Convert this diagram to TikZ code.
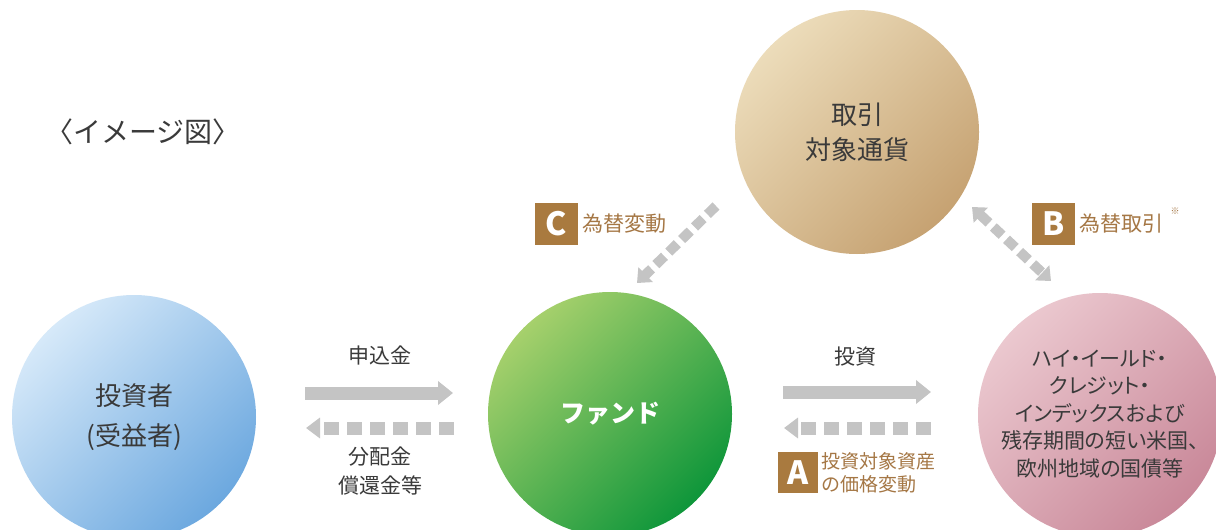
\documentclass[tikz,border=0pt]{standalone}
\usepackage{fontspec}
\setmainfont{Noto Sans CJK JP}
\newfontfamily\jpprop[RawFeature=+palt]{Noto Sans CJK JP}
\usetikzlibrary{arrows.meta}
\definecolor{txt}{HTML}{3A3A3A}
\definecolor{lab}{HTML}{A57745}
\definecolor{boxc}{HTML}{A97A3F}
\definecolor{arr}{HTML}{C4C4C4}
\definecolor{curA}{HTML}{ECDCBA}
\definecolor{curB}{HTML}{C6A272}
\definecolor{invA}{HTML}{D6E9F9}
\definecolor{invB}{HTML}{6CA8DF}
\definecolor{fundA}{HTML}{A6D06C}
\definecolor{fundB}{HTML}{0E963A}
\definecolor{bondA}{HTML}{EBC8CF}
\definecolor{bondB}{HTML}{C98899}
\tikzset{
  ball/.style={circle, minimum size=244pt, inner sep=0pt, align=center, text=txt, shading angle=45},
  solidarr/.style={draw=arr, line width=13pt, -{Triangle[length=15pt,width=23pt]}},
  dasharr/.style={draw=arr, line width=13pt, -{Triangle[length=14pt,width=20pt]}, dash pattern=on 15pt off 8pt},
  diagarr/.style={draw=arr, line width=10pt, dash pattern=on 12pt off 6pt},
  lettbox/.style={fill=boxc, text=white, font=\fontsize{32}{32}\selectfont\bfseries, inner sep=0pt},
  labtxt/.style={text=lab, anchor=west, inner sep=0pt, align=left},
  flowtxt/.style={text=txt, align=center, inner sep=0pt, font=\fontsize{21}{29}\selectfont}
}
\begin{document}
\begin{tikzpicture}[x=1pt,y=-1pt]
\useasboundingbox (0,0) rectangle (1216,530);
\clip (0,0) rectangle (1216,530);
\fill[white] (0,0) rectangle (1216,530);

\node[text=txt, font=\fontsize{28}{30}\selectfont] (title) at (143,132) {〈イメージ図〉};

\node[ball, top color=curA, bottom color=curB, shading angle=45] (cur) at (857,132) {};
\node[ball, top color=invA, bottom color=invB, shading angle=45] (inv) at (134,417) {};
\node[ball, top color=fundA, bottom color=fundB, shading angle=45] (fund) at (610,414) {};
\node[ball, top color=bondA, bottom color=bondB, shading angle=45] (bond) at (1100,415) {};

\node[text=txt, align=center, font=\fontsize{26}{35}\selectfont] (curt) at (cur) {取引\\対象通貨};
\node[text=txt, align=center, font=\fontsize{26}{40}\selectfont] (invt) at (inv) {投資者\\(受益者)};
\node[text=white, font=\fontsize{25}{30}\selectfont\bfseries] (fundt) at (fund) {ファンド};
\node[text=txt, align=center, font=\jpprop\fontsize{21}{27.5}\selectfont] (bondt) at ([yshift=1pt]bond) {ハイ・イールド・\\クレジット・\\インデックスおよび\\残存期間の短い米国、\\欧州地域の国債等};

% horizontal connectors
\coordinate (s1) at (305,393); \coordinate (e1) at (453,393);
\coordinate (s2) at (454,428); \coordinate (e2) at (306,428);
\coordinate (s3) at (783,392); \coordinate (e3) at (931,392);
\coordinate (s4) at (931,428); \coordinate (e4) at (784,428);
\draw[solidarr] (s1) -- (e1);
\draw[dasharr] (s2) -- (e2);
\draw[solidarr] (s3) -- (e3);
\draw[dasharr] (s4) -- (e4);

% diagonal connectors
\coordinate (cs) at (716,206); \coordinate (ce) at (637,283);
\coordinate (bs) at (972,207); \coordinate (be) at (1051,281);
\draw[diagarr, -{Triangle[length=12pt,width=20pt]}] (cs) -- (ce);
\draw[diagarr, {Triangle[length=12pt,width=20pt]}-{Triangle[length=12pt,width=20pt]}] (bs) -- (be);

% flow labels
\node[flowtxt] (l1) at (380,355) {申込金};
\node[flowtxt] (l2) at (380,471) {分配金\\償還金等};
\node[flowtxt] (l3) at (855,357) {投資};

% lettered labels
\node[lettbox, minimum width=43pt, minimum height=42pt] (bc) at (556.5,224) {C};
\node[labtxt, font=\fontsize{21}{25}\selectfont] (tc) at (582,224) {為替変動};
\node[lettbox, minimum width=43pt, minimum height=42pt] (bb) at (1053.5,224) {B};
\node[labtxt, font=\fontsize{21}{25}\selectfont] (tb) at (1079,224) {為替取引};
\node[text=lab, inner sep=0pt, font=\fontsize{9}{9}\selectfont] (ast) at (1175,211) {※};
\node[lettbox, minimum width=40pt, minimum height=41pt] (ba) at (798,472.5) {A};
\node[labtxt, font=\fontsize{19}{23}\selectfont] (ta) at (821,473) {投資対象資産\\の価格変動};
\end{tikzpicture}
\end{document}
